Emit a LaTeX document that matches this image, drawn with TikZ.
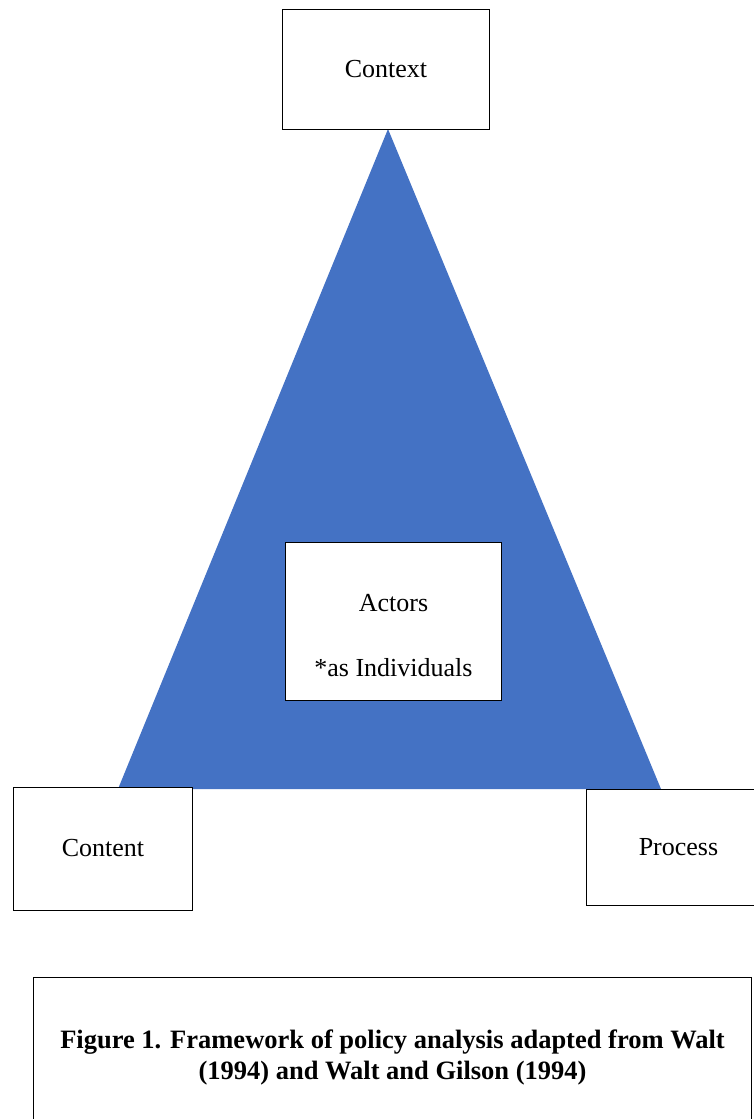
\documentclass[tikz,border=0pt]{standalone}
\usepackage{fontspec}
\setmainfont{Liberation Serif}
\definecolor{triblue}{HTML}{4472C4}
\begin{document}
\begin{tikzpicture}[x=1pt,y=-1pt,
  box/.style={draw=black,line width=1pt,fill=white,anchor=north west,inner sep=0pt,
    align=center,font=\fontsize{26}{30}\selectfont},
  boxtext/.style={inner sep=0pt,font=\fontsize{26}{30}\selectfont},
  capbox/.style={draw=black,line width=1pt,fill=white,anchor=north west,inner sep=0pt,
    align=center,font=\fontsize{26.5}{31}\selectfont\bfseries}]
\useasboundingbox (0,0) rectangle (754,1119);
% triangle corners
\coordinate (apex) at (388,129);
\coordinate (bl) at (118,789);
\coordinate (br) at (661,789);
\fill[triblue] (apex) -- (bl) -- (br) -- cycle;
% labelled boxes
\node[box,minimum width=207pt,minimum height=120pt] (context) at (282,9) {Context};
\node[box,minimum width=216pt,minimum height=158pt] (actors) at (285,542) {};
\node[boxtext] (actorsA) at ([yshift=18pt]actors.center) {Actors};
\node[boxtext] (actorsB) at ([yshift=-46pt]actors.center) {*as Individuals};
\node[box,minimum width=179pt,minimum height=123pt] (content) at (13,787) {\raisebox{3pt}{Content}};
\node[box,minimum width=184pt,minimum height=116pt] (process) at (586,789) {Process};
% caption box
\node[capbox,minimum width=718pt,minimum height=160pt] (caption) at (33,977)
  {\raisebox{3pt}{\begin{tabular}{@{}c@{}}Figure 1. Framework of policy analysis adapted from Walt\\(1994) and Walt and Gilson (1994)\end{tabular}}};
\end{tikzpicture}
\end{document}
